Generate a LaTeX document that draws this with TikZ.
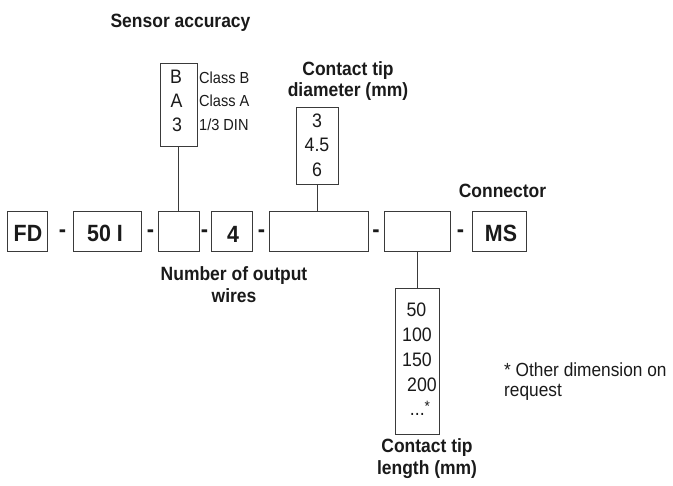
\documentclass[tikz,border=0pt]{standalone}
\usepackage{fontspec}
\setmainfont{Liberation Sans}[FakeStretch=0.91]
\definecolor{ink}{HTML}{1A1A1A}
\definecolor{linec}{HTML}{3A3A3A}
\begin{document}
\begin{tikzpicture}[x=1pt,y=-1pt,
  box/.style={draw=linec, line width=0.9pt, inner sep=0pt, minimum width=#1},
  rowbox/.style={box=#1, minimum height=40pt},
  conn/.style={draw=linec, line width=0.9pt},
  title/.style={anchor=base, inner sep=0pt, text=ink, font=\fontsize{19.2}{22}\selectfont\bfseries},
  code/.style={anchor=base, inner sep=0pt, text=ink, font=\fontsize{23.5}{26}\selectfont\bfseries},
  opt/.style={anchor=base, inner sep=0pt, text=ink, font=\fontsize{19.5}{22}\selectfont},
  small/.style={anchor=base west, inner sep=0pt, text=ink, font=\fontsize{16}{18}\selectfont},
  note/.style={anchor=base west, inner sep=0pt, text=ink, font=\fontsize{19}{21}\selectfont},
  sep/.style={anchor=base, inner sep=0pt, text=ink, font=\fontsize{24}{26}\selectfont\bfseries}]
\useasboundingbox (0,0) rectangle (673,486);

% main row boxes
\node[rowbox=40pt] (fd)  at (27,231) {};
\node[rowbox=68pt] (b50) at (107,231) {};
\node[rowbox=41pt] (acc) at (178.5,231) {};
\node[rowbox=41pt] (wir) at (231.5,231) {};
\node[rowbox=99pt] (dia) at (318.5,231) {};
\node[rowbox=66pt] (len) at (417,231) {};
\node[rowbox=54pt] (ms)  at (499,231) {};

% texts in the row
\node[code] (tfd)  at (28,241.5) {FD};
\node[code] (t50)  at (105,241.5) {50 I};
\node[code] (t4)   at (233,243) {4};
\node[code] (tms)  at (501,242) {MS};

% separators
\node[sep] (s1) at (62.5,238) {-};
\node[sep] (s2) at (150.5,238) {-};
\node[sep] (s3) at (204.5,238) {-};
\node[sep] (s4) at (261.5,238) {-};
\node[sep] (s5) at (376,238) {-};
\node[sep] (s6) at (460.5,238) {-};

% option boxes
\node[box=37pt, minimum height=83pt] (accbox) at (178.5,104.5) {};
\node[box=42pt, minimum height=77pt] (diabox) at (317,145.5) {};
\node[box=44pt, minimum height=146pt] (lenbox) at (417,361) {};

% connectors
\draw[conn] (accbox.south) -- (acc.north);
\draw[conn] (diabox.south) -- (diabox.south |- dia.north);
\draw[conn] (len.south) -- (lenbox.north);

% accuracy options
\node[opt] (ab) at (176,84) {B};
\node[opt] (aa) at (176.5,108) {A};
\node[opt] (a3) at (177,132) {3};
\node[small] (cb) at (199,83.5) {Class B};
\node[small] (ca) at (199,107) {Class A};
\node[small] (cd) at (199,131) {1/3 DIN};

% diameter options
\node[opt] (d1) at (317,127.5) {3};
\node[opt] (d2) at (317,152) {4.5};
\node[opt] (d3) at (317,176.5) {6};

% length options
\node[opt] (l1) at (416.5,316.7) {50};
\node[opt] (l2) at (417,342) {100};
\node[opt] (l3) at (417,366.7) {150};
\node[opt] (l4) at (422,391.7) {200};
\node[opt] (l5) at (420,416) {...\raisebox{4pt}{\fontsize{15}{16}\selectfont *}};

% titles
\node[title] (tacc) at (180.5,28) {Sensor accuracy};
\node[title] (tdia1) at (348,76) {Contact tip};
\node[title] (tdia2) at (348,97) {diameter (mm)};
\node[title] (tcon) at (502.5,197.5) {Connector};
\node[title] (twir1) at (234,281) {Number of output};
\node[title] (twir2) at (234,303) {wires};
\node[title] (tlen1) at (427,452.5) {Contact tip};
\node[title] (tlen2) at (427,475) {length (mm)};

% note
\node[note] (n1) at (504,377) {* Other dimension on};
\node[note] (n2) at (504,397) {request};
\end{tikzpicture}
\end{document}
